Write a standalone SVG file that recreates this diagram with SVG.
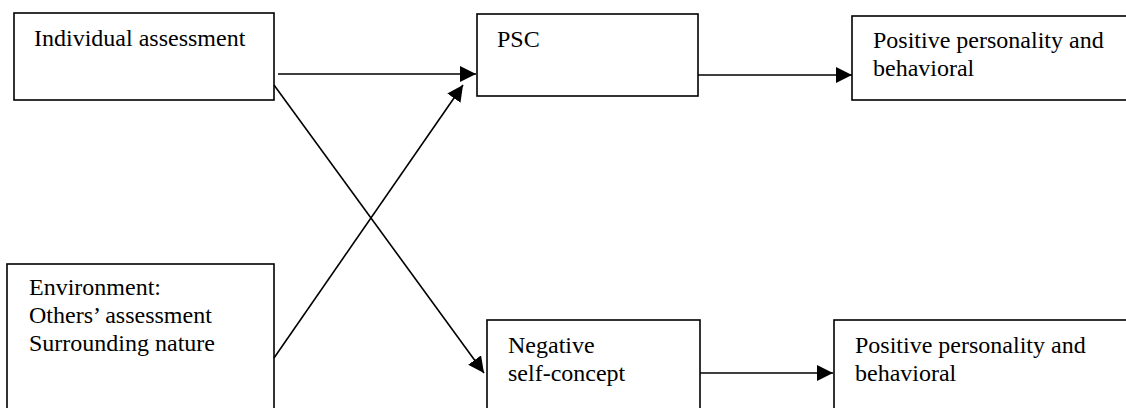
<svg xmlns="http://www.w3.org/2000/svg" width="1126" height="408" viewBox="0 0 1126 408">
<defs>
<style>
.box{fill:#fff;stroke:#000;stroke-width:1.6}
.t{font-size:24px;fill:#000}
.c{stroke:#000;stroke-width:1.6;fill:none}
</style>
<marker id="ah" markerUnits="userSpaceOnUse" markerWidth="16" markerHeight="16" viewBox="0 0 16 16" refX="16" refY="8" orient="auto">
<path d="M0,0 L16,8 L0,16 Z" fill="#000"/>
</marker>
</defs>
<rect width="1126" height="408" fill="#fff"/>
<g font-family="'Liberation Serif', 'Times New Roman', Times, 'DejaVu Serif', serif">
<g id="n-individual">
<rect class="box" x="14" y="13" width="260" height="87"/>
<text class="t" x="34" y="46">Individual assessment</text>
</g>
<g id="n-psc">
<rect class="box" x="477" y="14" width="221" height="82"/>
<text class="t" x="497" y="47">PSC</text>
</g>
<g id="n-positive-top">
<rect class="box" x="852" y="16" width="290" height="84"/>
<text class="t" x="873" y="48">Positive personality and</text>
<text class="t" x="873" y="76">behavioral</text>
</g>
<g id="n-environment">
<rect class="box" x="7" y="264" width="267" height="160"/>
<text class="t" x="29" y="295">Environment:</text>
<text class="t" x="29" y="323">Others’ assessment</text>
<text class="t" x="29" y="351">Surrounding nature</text>
</g>
<g id="n-negative">
<rect class="box" x="487" y="320" width="213" height="110"/>
<text class="t" x="508" y="353">Negative</text>
<text class="t" x="508" y="381">self-concept</text>
</g>
<g id="n-positive-bottom">
<rect class="box" x="834" y="320" width="310" height="110"/>
<text class="t" x="855" y="353">Positive personality and</text>
<text class="t" x="855" y="381">behavioral</text>
</g>
</g>
<g id="connectors">
<line class="c" x1="278" y1="74" x2="476" y2="74" marker-end="url(#ah)"/>
<line class="c" x1="698" y1="75" x2="852" y2="75" marker-end="url(#ah)"/>
<line class="c" x1="274" y1="358" x2="463" y2="85" marker-end="url(#ah)"/>
<line class="c" x1="274" y1="85" x2="484" y2="373" marker-end="url(#ah)"/>
<line class="c" x1="700" y1="373" x2="833" y2="373" marker-end="url(#ah)"/>
</g>
</svg>
